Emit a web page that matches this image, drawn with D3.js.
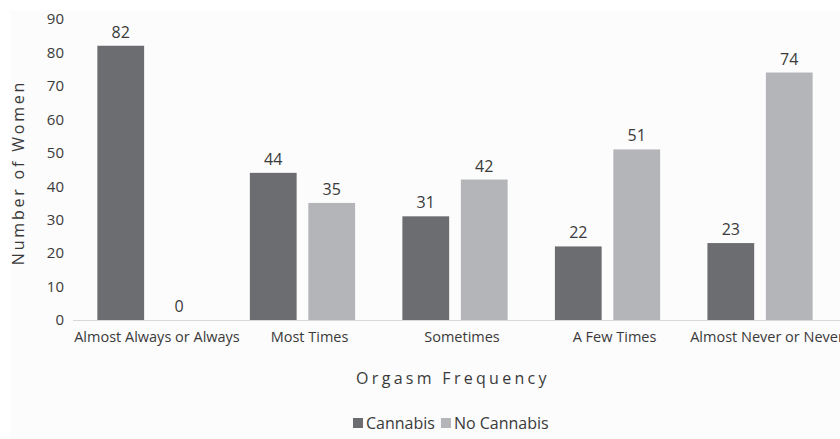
<!DOCTYPE html>
<html>
<head>
<meta charset="utf-8">
<script src="https://cdn.jsdelivr.net/npm/d3@7"></script>
<style>
  html, body { margin: 0; padding: 0; background: #ffffff; }
  svg { display: block; font-family: "Open Sans", "Noto Sans", sans-serif; }
</style>
</head>
<body>
<svg id="chart" width="840" height="439"></svg>
<script>
// Orgasm frequency by cannabis use
const categories = ["Almost Always or Always", "Most Times", "Sometimes", "A Few Times", "Almost Never or Never"];
const seriesNames = ["Cannabis", "No Cannabis"];
const cannabis = [82, 44, 31, 22, 23];
const noCannabis = [0, 35, 42, 51, 74];
const yTicks = [0, 10, 20, 30, 40, 50, 60, 70, 80, 90];

const colors = { "Cannabis": "#6c6d71", "No Cannabis": "#b4b5b8" };
const seriesValues = { "Cannabis": cannabis, "No Cannabis": noCannabis };

const svg = d3.select("#chart");
const W = 840, H = 439;
const margin = { top: 19, right: 6, bottom: 119, left: 76 };
const plotBottom = H - margin.bottom;
const textColor = "#3a3a3a";

// faint chart area panel
svg.append("rect").attr("x", 10).attr("y", 10).attr("width", W - 10).attr("height", H - 10)
  .attr("fill", "#fcfcfc");

const x = d3.scaleBand().domain(categories)
  .range([margin.left, W - margin.right])
  .paddingInner(0.31).paddingOuter(0.14);
const xs = d3.scaleBand().domain(seriesNames)
  .range([0, x.bandwidth()]).paddingInner(0.2);
const y = d3.scaleLinear().domain([0, 90]).range([plotBottom, margin.top]);

// y axis (labels only)
const yAxis = d3.axisLeft(y).tickValues(yTicks).tickSize(0).tickPadding(0);
const gy = svg.append("g").attr("transform", `translate(64,0)`).call(yAxis);
gy.select(".domain").remove();
gy.selectAll("text").attr("font-size", 15).attr("fill", textColor)
  .style("font-family", "'Open Sans', sans-serif");

// baseline
svg.append("line").attr("x1", 73).attr("x2", W).attr("y1", plotBottom + 0.5).attr("y2", plotBottom + 0.5)
  .attr("stroke", "#d9d9d9").attr("stroke-width", 1);

// x axis labels
const xAxis = d3.axisBottom(x).tickSize(0).tickPadding(12);
const gx = svg.append("g").attr("transform", `translate(7,${plotBottom})`).call(xAxis);
gx.select(".domain").remove();
gx.selectAll("text").attr("font-size", 14.5).attr("fill", textColor)
  .style("font-family", "'Open Sans', sans-serif");

// bars
const groups = svg.append("g").selectAll("g").data(categories).join("g")
  .attr("transform", d => `translate(${x(d)},0)`);
groups.selectAll("rect")
  .data((d, i) => seriesNames.map(s => ({ s, v: seriesValues[s][i] })))
  .join("rect")
  .attr("x", d => xs(d.s))
  .attr("width", xs.bandwidth())
  .attr("y", d => y(d.v))
  .attr("height", d => plotBottom - y(d.v))
  .attr("fill", d => colors[d.s]);

// value labels
groups.selectAll("text.val")
  .data((d, i) => seriesNames.map(s => ({ s, v: seriesValues[s][i] })))
  .join("text").attr("class", "val")
  .attr("x", d => xs(d.s) + xs.bandwidth() / 2)
  .attr("y", d => y(d.v) - 8)
  .attr("text-anchor", "middle")
  .attr("font-size", 16).attr("fill", textColor)
  .text(d => d.v);

// axis titles
svg.append("text")
  .attr("transform", `translate(24,${(margin.top + plotBottom) / 2 + 3}) rotate(-90)`)
  .attr("text-anchor", "middle").attr("font-size", 16).attr("fill", textColor)
  .attr("letter-spacing", 2.8)
  .text("Number of Women");

svg.append("text")
  .attr("x", 453).attr("y", 384)
  .attr("text-anchor", "middle").attr("font-size", 16).attr("fill", textColor)
  .attr("letter-spacing", 3.3)
  .text("Orgasm Frequency");

// legend
const legend = svg.append("g").attr("transform", "translate(353,429)");
let lx = 0;
seriesNames.forEach(s => {
  legend.append("rect").attr("x", lx).attr("y", -11).attr("width", 10).attr("height", 10)
    .attr("fill", colors[s]);
  const t = legend.append("text").attr("x", lx + 13).attr("y", 0)
    .attr("font-size", 16).attr("fill", textColor).text(s);
  lx += 13 + t.node().getComputedTextLength() + 6;
});
</script>
</body>
</html>
